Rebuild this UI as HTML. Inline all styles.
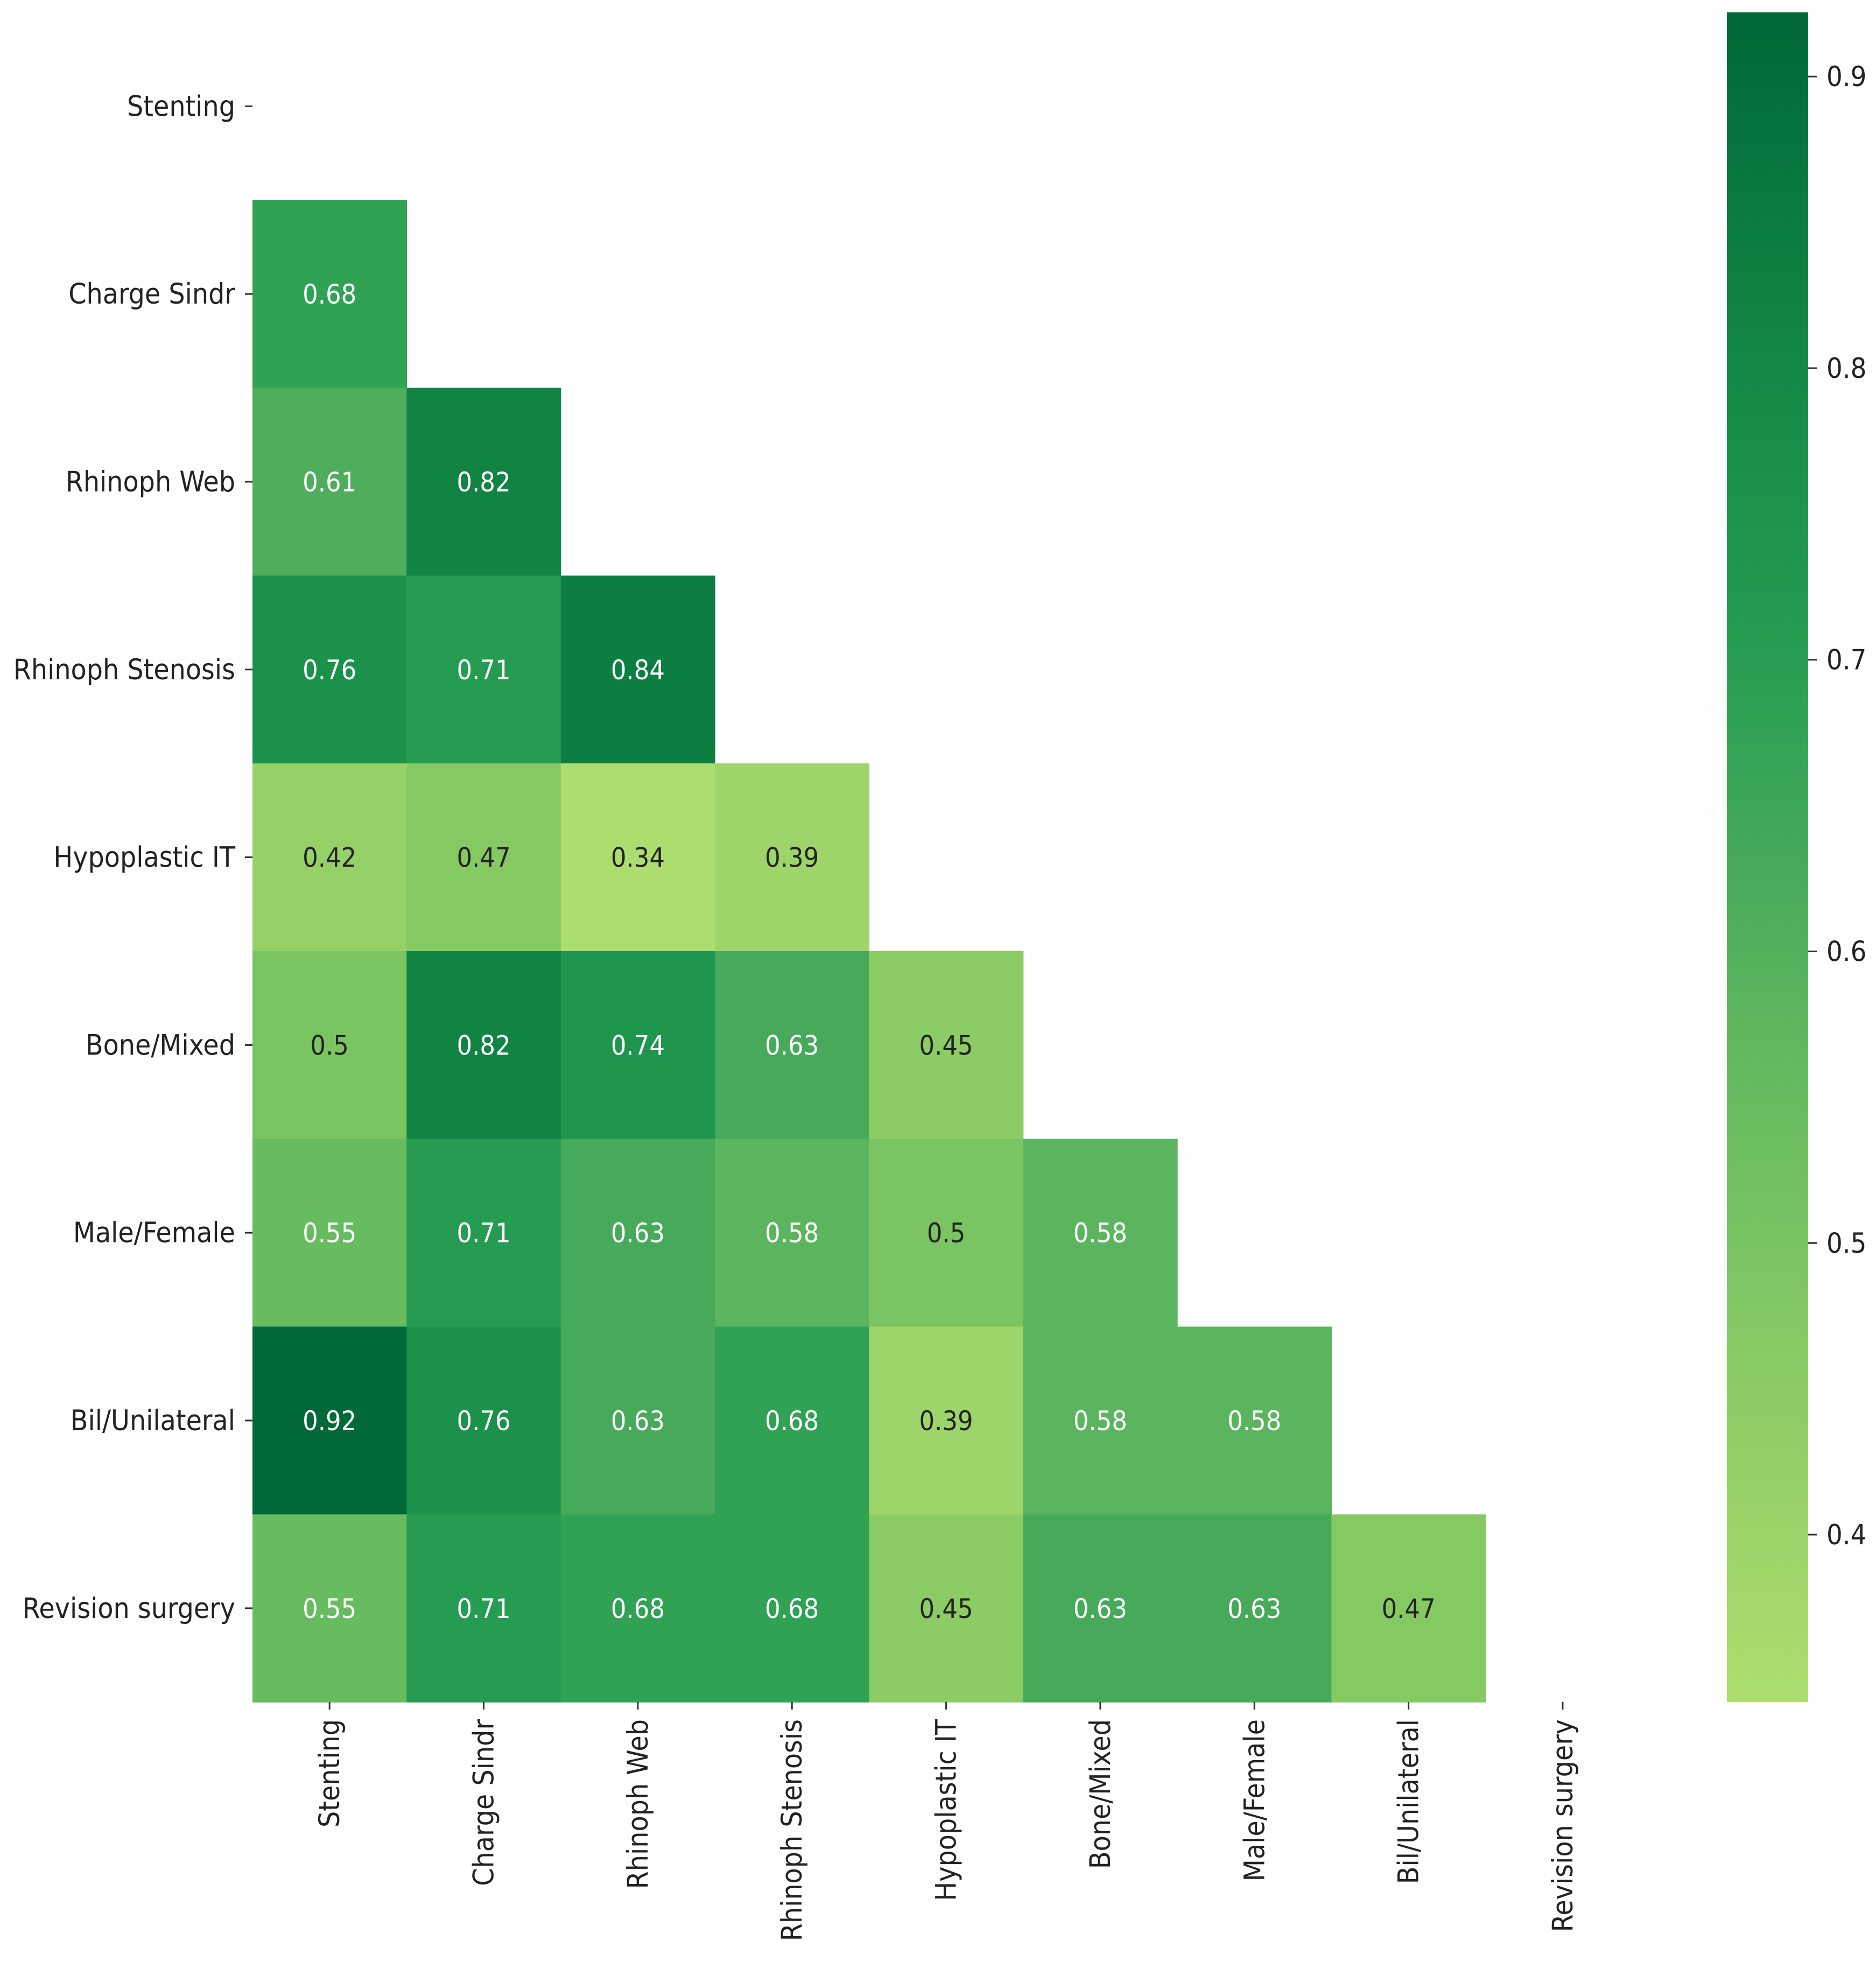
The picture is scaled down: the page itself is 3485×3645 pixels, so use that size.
<!DOCTYPE html>
<html><head><meta charset="utf-8"><style>
html,body{margin:0;padding:0;background:#fff;}
svg text{font-family:"DejaVu Sans","Liberation Sans",sans-serif;font-stretch:condensed;}
</style></head><body>
<svg id="chart" xmlns="http://www.w3.org/2000/svg" width="3485" height="3640" viewBox="0 0 3485 3640">
<defs><linearGradient id="cbgrad" x1="0" y1="1" x2="0" y2="0"></linearGradient></defs>
<g id="cells"></g>
<g id="yaxis"></g>
<g id="xaxis"></g>
<g id="cbar"></g>
</svg>
<script>
const categories = ["Stenting","Charge Sindr","Rhinoph Web","Rhinoph Stenosis","Hypoplastic IT","Bone/Mixed","Male/Female","Bil/Unilateral","Revision surgery"];
const row1 = [0.68];
const row2 = [0.61,0.82];
const row3 = [0.76,0.71,0.84];
const row4 = [0.42,0.47,0.34,0.39];
const row5 = [0.5,0.82,0.74,0.63,0.45];
const row6 = [0.55,0.71,0.63,0.58,0.5,0.58];
const row7 = [0.92,0.76,0.63,0.68,0.39,0.58,0.58];
const row8 = [0.55,0.71,0.68,0.68,0.45,0.63,0.63,0.47];
const cbTicks = [0.4,0.5,0.6,0.7,0.8,0.9];
const vmin = 0.3426, vmax = 0.922;

const rows = [[],row1,row2,row3,row4,row5,row6,row7,row8];
const NS="http://www.w3.org/2000/svg";
const X0=469, CW=286.35, Y0=23, CH=348.8;
const xPos=i=>X0+CW*i, yPos=j=>Y0+CH*j;
const cbX=3208, cbW=151, cbTop=23, cbBot=3162;
const cbY=v=>cbBot-(v-vmin)/(vmax-vmin)*(cbBot-cbTop);
const stops=[[0.3426,[173,221,111]],[0.45,[140,204,100]],[0.55,[103,188,96]],[0.62,[74,172,91]],[0.7,[39,158,82]],[0.8,[20,137,71]],[0.922,[0,104,55]]];
function color(v){
  for(let k=0;k<stops.length-1;k++){const a=stops[k],b=stops[k+1];
    if(v<=b[0]||k==stops.length-2){let t=Math.max(0,Math.min(1,(v-a[0])/(b[0]-a[0])));
      const c=a[1].map((x,i)=>Math.round(x+(b[1][i]-x)*t));return `rgb(${c})`;}}
}
function mk(tag,attrs,parent){const e=document.createElementNS(NS,tag);for(const k in attrs)e.setAttribute(k,attrs[k]);parent.appendChild(e);return e;}
const cells=document.getElementById('cells');
rows.forEach((r,j)=>r.forEach((v,i)=>{
  const rc=mk('rect',{x:xPos(i),y:yPos(j),width:CW+0.6,height:CH+0.6,fill:color(v)},cells);
  
  
  const t=mk('text',{x:xPos(i)+CW/2,y:yPos(j)+CH/2+18,'text-anchor':'middle','font-size':50,fill:v<0.52?'#222':'#fff'},cells);
  
  
  t.textContent=String(v);
}));
const ya=document.getElementById('yaxis'), xa=document.getElementById('xaxis');
categories.forEach((c,i)=>{
  const yc=yPos(i)+CH/2;
  mk('line',{x1:X0-14,x2:X0,y1:yc,y2:yc,stroke:'#333','stroke-width':3},ya);
  const t=mk('text',{x:X0-32,y:yc+18,'text-anchor':'end','font-size':53,fill:'#222'},ya);
  
  
  t.textContent=c;
  const xc=xPos(i)+CW/2;
  mk('line',{x1:xc,x2:xc,y1:cbBot,y2:cbBot+14,stroke:'#333','stroke-width':3},xa);
  const tx=mk('text',{x:0,y:0,'text-anchor':'end','font-size':53,fill:'#222',transform:`translate(${xc+18},${cbBot+32}) rotate(-90)`},xa);
  
  
  tx.textContent=c;
});
const g=document.getElementById('cbgrad');
for(let k=0;k<=20;k++){const v=vmin+(vmax-vmin)*k/20;mk('stop',{offset:(k/20),'stop-color':color(v)},g);}
const cb=document.getElementById('cbar');
const bar=mk('rect',{x:cbX,y:cbTop,width:cbW,height:cbBot-cbTop,fill:'url(#cbgrad)'},cb);


cbTicks.forEach(v=>{
  const y=cbY(v);
  mk('line',{x1:cbX+cbW,x2:cbX+cbW+16,y1:y,y2:y,stroke:'#333','stroke-width':3},cb);
  const t=mk('text',{x:cbX+cbW+34,y:y+18,'font-size':52,fill:'#222'},cb);
  
  
  t.textContent=v.toFixed(1);
});
</script>
</body></html>
